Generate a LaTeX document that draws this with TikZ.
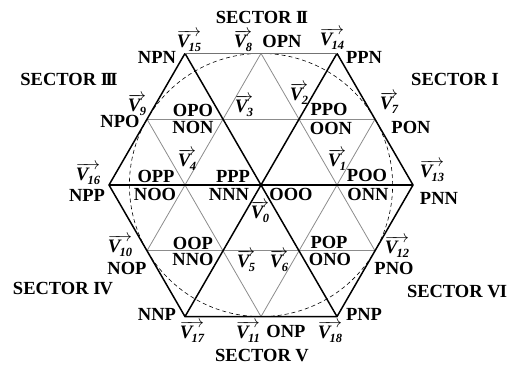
\documentclass[tikz,border=0pt]{standalone}
\usepackage{fontspec}
\setmainfont{Liberation Serif}
\usetikzlibrary{calc}
\newcommand{\vlab}[1]{$\overrightarrow{\hbox{\bfseries\itshape V\kern-0.04em\raisebox{-0.45ex}{\fontsize{12.5}{12.5}\selectfont #1}}}$}
\begin{document}
\begin{tikzpicture}[x=1pt,y=-1pt,
  lab/.style={font=\fontsize{18.5}{18.5}\selectfont\bfseries, inner sep=0pt},
  vec/.style={font=\fontsize{19}{19}\selectfont, inner sep=0pt},
  sec/.style={font=\fontsize{18.5}{18.5}\selectfont\bfseries, inner sep=0pt},
  thin grid/.style={draw=black!45, line width=0.8pt},
  bold edge/.style={draw=black, line width=1.5pt},
  top edge/.style={draw=black!55, line width=1.6pt}]
\useasboundingbox (0,0) rectangle (519,369);
% hexagon vertices
\coordinate (O) at (261,185);
\coordinate (A) at (413,185);
\coordinate (B) at (337,53.4);
\coordinate (C) at (185,53.4);
\coordinate (D) at (109,185);
\coordinate (E) at (185,316.6);
\coordinate (F) at (337,316.6);
% edge midpoints
\coordinate (mAB) at ($(A)!0.5!(B)$);
\coordinate (mBC) at ($(B)!0.5!(C)$);
\coordinate (mCD) at ($(C)!0.5!(D)$);
\coordinate (mDE) at ($(D)!0.5!(E)$);
\coordinate (mEF) at ($(E)!0.5!(F)$);
\coordinate (mFA) at ($(F)!0.5!(A)$);
% grey grid
\draw[thin grid] (mCD) -- (mAB);
\draw[thin grid] (mDE) -- (mFA);
\draw[thin grid] (mDE) -- (mBC);
\draw[thin grid] (mEF) -- (mAB);
\draw[thin grid] (mCD) -- (mEF);
\draw[thin grid] (mBC) -- (mFA);
% dashed inscribed circle
\draw[line width=0.6pt, dash pattern=on 4pt off 3pt] (O) circle (131.6pt);
% black lines
\draw[bold edge] (D) -- (A);
\draw[bold edge] (C) -- (F);
\draw[bold edge] (B) -- (E);
\draw[bold edge, line join=miter] (B) -- (A) -- (F) -- (E) -- (D) -- (C);
\draw[top edge] (C) -- (B);
% sector labels
\node[sec] (s2) at (262,17) {SECTOR I\kern-0.13em I};
\node[sec] (s1) at (455,79) {SECTOR I};
\node[sec] (s3) at (69,79) {SECTOR I\kern-0.13em I\kern-0.13em I};
\node[sec] (s4) at (63,289) {SECTOR I\kern-0.05em V};
\node[sec] (s5) at (262,356) {SECTOR V};
\node[sec] (s6) at (457,292) {SECTOR V\kern-0.05em I};
% state labels
\node[lab] (npn) at (157,57) {NPN};
\node[lab] (opn) at (282,41) {OPN};
\node[lab] (ppn) at (364,57) {PPN};
\node[lab] (npo) at (120,121) {NPO};
\node[lab] (opo) at (193,110) {OPO};
\node[lab] (non) at (193,127) {NON};
\node[lab] (ppo) at (329,109) {PPO};
\node[lab] (oon) at (331,128) {OON};
\node[lab] (pon) at (411,127) {PON};
\node[lab] (opp) at (156,176) {OPP};
\node[lab] (ppp) at (233,176) {PPP};
\node[lab] (poo) at (367,175) {POO};
\node[lab] (npp) at (87,195) {NPP};
\node[lab] (noo) at (155,194) {NOO};
\node[lab] (nnn) at (229,194) {NNN};
\node[lab] (ooo) at (291,194) {OOO};
\node[lab] (onn) at (368,194) {ONN};
\node[lab] (pnn) at (439,198) {PNN};
\node[lab] (oop) at (193,243) {OOP};
\node[lab] (nno) at (193,259) {NNO};
\node[lab] (pop) at (329,242) {POP};
\node[lab] (ono) at (330,259) {ONO};
\node[lab] (nop) at (127,268) {NOP};
\node[lab] (pno) at (394,268) {PNO};
\node[lab] (nnp) at (157,314) {NNP};
\node[lab] (pnp) at (364,314) {PNP};
\node[lab] (onp) at (286,331) {ONP};
% vector labels
\node[vec] (v15) at (189,41) {\vlab{15}};
\node[vec] (v8) at (243,41) {\vlab{8}};
\node[vec] (v14) at (332,39) {\vlab{14}};
\node[vec] (v9) at (137,105) {\vlab{9}};
\node[vec] (v3) at (244,106) {\vlab{3}};
\node[vec] (v2) at (299,94) {\vlab{2}};
\node[vec] (v7) at (389,103) {\vlab{7}};
\node[vec] (v4) at (187,160) {\vlab{4}};
\node[vec] (v1) at (337,160) {\vlab{1}};
\node[vec] (v16) at (88,174) {\vlab{16}};
\node[vec] (v13) at (432,171) {\vlab{13}};
\node[vec] (v0) at (260,212) {\vlab{0}};
\node[vec] (v10) at (120,246) {\vlab{10}};
\node[vec] (v12) at (397,247) {\vlab{12}};
\node[vec] (v5) at (246,261) {\vlab{5}};
\node[vec] (v6) at (279,261) {\vlab{6}};
\node[vec] (v17) at (192,332) {\vlab{17}};
\node[vec] (v11) at (248,332) {\vlab{11}};
\node[vec] (v18) at (330,332) {\vlab{18}};
\end{tikzpicture}
\end{document}
